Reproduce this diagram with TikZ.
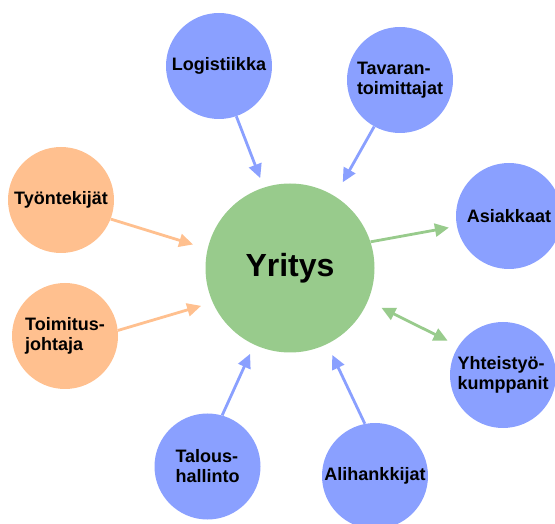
\documentclass[tikz,border=0pt]{standalone}
\usepackage{fontspec}
\setmainfont{Liberation Sans}
\usetikzlibrary{arrows.meta}

\definecolor{kpblue}{RGB}{138,160,255}
\definecolor{kpgreen}{RGB}{152,203,140}
\definecolor{kporange}{RGB}{255,192,143}

\begin{document}
\begin{tikzpicture}[x=1pt, y=1pt,
	blob/.style={circle, fill=#1, minimum size=106pt, inner sep=0pt, align=left, font=\bfseries\fontsize{18pt}{20pt}\selectfont},
	link/.style={line width=2.8pt, draw=#1, -{Triangle[length=14pt,width=13pt]}}]

	\useasboundingbox (0,0) rectangle (555,523);

	\node[blob=kpgreen, minimum size=169pt, font=\bfseries\fontsize{32pt}{34pt}\selectfont] (yritys) at (290,255) {Yritys};

	\node[blob=kpblue] (logistiikka) at (219,457) {Logistiikka};
	\node[blob=kpblue] (tavara) at (400,443) {Tavaran-\\toimittajat};
	\node[blob=kpblue] (asiakkaat) at (509,307) {Asiakkaat};
	\node[blob=kpblue] (yhteistyo) at (503,148) {Yhteistyö-\\kumppanit};
	\node[blob=kpblue] (alihankkijat) at (375,47) {Alihankkijat};
	\node[blob=kpblue] (talous) at (207.5,56.5) {Talous-\\hallinto};
	\node[blob=kporange] (toimitus) at (65,187) {Toimitus-\\johtaja};
	\node[blob=kporange] (tyontekijat) at (61,323) {Työntekijät};

	\draw[link=kpblue, shorten >=10pt] (logistiikka.-71) -- (yritys.108);
	\draw[link=kpblue, shorten >=16pt] (tavara.241) -- (yritys.58);
	\draw[link=kporange, shorten >=15pt] (tyontekijat.-21) -- (yritys.167);
	\draw[link=kporange, shorten >=12pt] (toimitus.6) -- (yritys.204);
	\draw[link=kpgreen, shorten >=8pt] (yritys.18) -- (asiakkaat.191);
	\draw[link=kpgreen, {Triangle[length=14pt,width=13pt]}-{Triangle[length=14pt,width=13pt]}, shorten <=15pt, shorten >=12pt] (yritys.-23) -- (yhteistyo.147);
	\draw[link=kpblue, shorten >=10pt] (talous.74) -- (yritys.245);
	\draw[link=kpblue, shorten >=12pt] (alihankkijat.101) -- (yritys.-64);

\end{tikzpicture}
\end{document}
